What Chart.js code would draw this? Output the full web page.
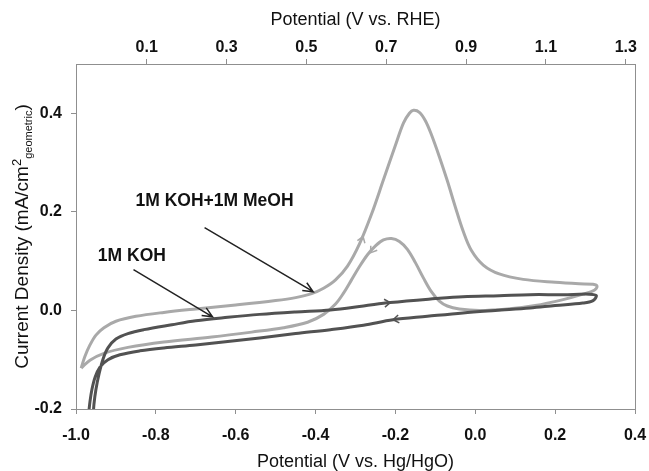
<!DOCTYPE html>
<html>
<head>
<meta charset="utf-8">
<script src="https://cdn.jsdelivr.net/npm/chart.js@4.4.0/dist/chart.umd.min.js"></script>
<style>
  html, body { margin: 0; padding: 0; background: #fff; }
</style>
</head>
<body>
<canvas id="cv" width="649" height="471"></canvas>
<script>
// Potential in V vs. Hg/HgO, current density in mA/cm2 (closed CV loops)
const meohPotential = [
  -0.987, -0.978, -0.965, -0.950, -0.930, -0.900, -0.850, -0.780, -0.700, -0.600,
  -0.500, -0.450, -0.410, -0.380, -0.350, -0.320, -0.290, -0.260, -0.230, -0.200,
  -0.180, -0.165, -0.155, -0.140, -0.125, -0.110, -0.090, -0.070, -0.050, -0.030,
  -0.010, 0.020, 0.060, 0.120, 0.200, 0.260, 0.295, 0.305,
  0.298, 0.270, 0.220, 0.150, 0.080, 0.010, -0.040, -0.070, -0.090, -0.110,
  -0.130, -0.150, -0.170, -0.190, -0.210, -0.230, -0.250, -0.270, -0.290, -0.310,
  -0.330, -0.350, -0.380, -0.420, -0.480, -0.560, -0.660, -0.780, -0.870, -0.930,
  -0.965, -0.987
];
const meohCurrent = [
  -0.117, -0.094, -0.070, -0.050, -0.035, -0.022, -0.012, -0.004, 0.003, 0.011,
  0.020, 0.026, 0.034, 0.045, 0.062, 0.090, 0.135, 0.195, 0.265, 0.335,
  0.380, 0.400, 0.406, 0.402, 0.385, 0.357, 0.312, 0.263, 0.210, 0.160,
  0.122, 0.092, 0.074, 0.063, 0.057, 0.054, 0.053, 0.049,
  0.041, 0.033, 0.022, 0.010, 0.003, 0.000, 0.003, 0.009, 0.019, 0.038,
  0.066, 0.097, 0.124, 0.140, 0.146, 0.143, 0.131, 0.113, 0.089, 0.062,
  0.035, 0.013, -0.008, -0.024, -0.035, -0.044, -0.054, -0.064, -0.075, -0.087,
  -0.101, -0.117
];
const kohPotential = [
  -0.957, -0.955, -0.950, -0.942, -0.932, -0.920, -0.900, -0.870, -0.830, -0.760,
  -0.700, -0.620, -0.540, -0.450, -0.363, -0.280, -0.213, -0.100, -0.031, 0.060,
  0.137, 0.220, 0.285, 0.303,
  0.295, 0.269, 0.200, 0.137, 0.050, -0.031, -0.120, -0.206, -0.280, -0.363,
  -0.450, -0.540, -0.620, -0.700, -0.780, -0.840, -0.890, -0.920, -0.940, -0.952,
  -0.960, -0.965, -0.969
];
const kohCurrent = [
  -0.215, -0.190, -0.160, -0.128, -0.098, -0.076, -0.058, -0.047, -0.039, -0.029,
  -0.021, -0.014, -0.008, -0.003, 0.001, 0.009, 0.016, 0.024, 0.028, 0.030,
  0.032, 0.032, 0.033, 0.030,
  0.020, 0.015, 0.010, 0.005, 0.000, -0.005, -0.012, -0.019, -0.030, -0.039,
  -0.047, -0.056, -0.063, -0.070, -0.076, -0.082, -0.090, -0.100, -0.115, -0.135,
  -0.160, -0.185, -0.215
];
const hgTicks = [-1.0, -0.8, -0.6, -0.4, -0.2, 0.0, 0.2, 0.4];
const rheTicks = [0.1, 0.3, 0.5, 0.7, 0.9, 1.1, 1.3];
const currentTicks = [-0.2, 0.0, 0.2, 0.4];
const rheOffset = 0.923; // E(RHE) = E(Hg/HgO) + 0.923

// callouts and scan-direction marks, in data coordinates
const callouts = [
  { text: "1M KOH+1M MeOH", at: [-0.653, 0.222], from: [-0.678, 0.168], to: [-0.406, 0.038] },
  { text: "1M KOH", at: [-0.86, 0.11], from: [-0.856, 0.083], to: [-0.658, -0.013] }
];
const scanMarks = [
  { ds: 1, at: [-0.281, 0.150], toward: [-0.27, 0.175] },
  { ds: 1, at: [-0.262, 0.117], toward: [-0.282, 0.094] },
  { ds: 0, at: [-0.213, 0.016], toward: [-0.19, 0.018] },
  { ds: 0, at: [-0.206, -0.019], toward: [-0.23, -0.022] }
];

const axisGrey = "#8f8f8f";
const family = "'Liberation Sans', Arial, sans-serif";
const tickFont = { family: family, size: 16, weight: "bold" };
const titleFont = { family: family, size: 18, lineHeight: 1 };

const toPoints = (xs, ys) => xs.map((x, i) => ({ x: x, y: ys[i] }));
const fixTicks = list => scale => { scale.ticks = list.map(v => ({ value: v })); };
const fitHeight = h => scale => { scale.height = h; scale.paddingLeft = 0; scale.paddingRight = 0; };

const overlay = {
  id: "overlay",
  afterDatasetsDraw(chart) {
    const { ctx, chartArea: a, scales } = chart;
    const px = p => [scales.x.getPixelForValue(p[0]), scales.y.getPixelForValue(p[1])];
    ctx.save();

    // right frame edge
    ctx.strokeStyle = axisGrey;
    ctx.lineWidth = 1;
    ctx.beginPath();
    ctx.moveTo(a.right + 0.5, a.top);
    ctx.lineTo(a.right + 0.5, a.bottom);
    ctx.stroke();

    // little chevrons showing scan direction
    scanMarks.forEach(m => {
      const [x1, y1] = px(m.at);
      const [x2, y2] = px(m.toward);
      const ang = Math.atan2(y2 - y1, x2 - x1);
      ctx.strokeStyle = chart.data.datasets[m.ds].borderColor;
      ctx.lineWidth = 1.5;
      ctx.beginPath();
      ctx.moveTo(x1 - 7 * Math.cos(ang - 0.6), y1 - 7 * Math.sin(ang - 0.6));
      ctx.lineTo(x1, y1);
      ctx.lineTo(x1 - 7 * Math.cos(ang + 0.6), y1 - 7 * Math.sin(ang + 0.6));
      ctx.stroke();
    });

    // callout labels with arrows
    callouts.forEach(c => {
      const [tx, ty] = px(c.at);
      const [x1, y1] = px(c.from);
      const [x2, y2] = px(c.to);
      ctx.fillStyle = "#111";
      ctx.font = "bold 17.5px " + family;
      ctx.textAlign = "center";
      ctx.textBaseline = "middle";
      ctx.fillText(c.text, tx, ty);
      const ang = Math.atan2(y2 - y1, x2 - x1);
      ctx.strokeStyle = "#222";
      ctx.lineWidth = 1.5;
      ctx.beginPath();
      ctx.moveTo(x1, y1);
      ctx.lineTo(x2, y2);
      ctx.moveTo(x2 - 11 * Math.cos(ang - 0.42), y2 - 11 * Math.sin(ang - 0.42));
      ctx.lineTo(x2, y2);
      ctx.lineTo(x2 - 11 * Math.cos(ang + 0.42), y2 - 11 * Math.sin(ang + 0.42));
      ctx.stroke();
    });
    ctx.restore();
  },
  afterDraw(chart) {
    // y axis title with super/subscript
    const { ctx, chartArea: a } = chart;
    const parts = [
      { t: "Current Density (mA/cm", size: 19, dy: 0 },
      { t: "2", size: 13, dy: -7 },
      { t: "geometric", size: 11, dy: 4 },
      { t: ")", size: 19, dy: 0 }
    ];
    ctx.save();
    ctx.fillStyle = "#111";
    ctx.textBaseline = "alphabetic";
    ctx.textAlign = "left";
    let total = 0;
    parts.forEach(p => { ctx.font = p.size + "px " + family; p.w = ctx.measureText(p.t).width; total += p.w; });
    ctx.translate(21, (a.top + a.bottom) / 2);
    ctx.rotate(-Math.PI / 2);
    let x = -total / 2;
    parts.forEach(p => {
      ctx.font = p.size + "px " + family;
      ctx.fillText(p.t, x, 7 + p.dy);
      x += p.w;
    });
    ctx.restore();
  }
};

const ctx = document.getElementById("cv").getContext("2d");
new Chart(ctx, {
  type: "scatter",
  data: {
    datasets: [
      {
        label: "1M KOH",
        data: toPoints(kohPotential, kohCurrent),
        showLine: true,
        borderColor: "#525252",
        borderWidth: 3,
        pointRadius: 0,
        tension: 0.35
      },
      {
        label: "1M KOH+1M MeOH",
        data: toPoints(meohPotential, meohCurrent),
        showLine: true,
        borderColor: "#a9a9a9",
        borderWidth: 3,
        pointRadius: 0,
        tension: 0.35
      }
    ]
  },
  options: {
    responsive: false,
    animation: false,
    devicePixelRatio: 1,
    layout: { padding: { left: 0, right: 14, top: 0, bottom: 0 } },
    plugins: { legend: { display: false }, tooltip: { enabled: false } },
    scales: {
      x: {
        type: "linear",
        position: "bottom",
        min: -1.0,
        max: 0.4,
        afterBuildTicks: fixTicks(hgTicks),
        afterFit: fitHeight(62),
        ticks: { font: tickFont, color: "#111", padding: 12, maxRotation: 0, autoSkip: false,
                 callback: v => v.toFixed(1) },
        grid: { drawOnChartArea: false, drawTicks: true, tickLength: 5, color: axisGrey },
        border: { display: true, color: axisGrey, width: 1 },
        title: { display: true, text: "Potential (V vs. Hg/HgO)", font: titleFont, color: "#111",
                 padding: { top: 0, bottom: 0 } }
      },
      xTop: {
        type: "linear",
        position: "top",
        min: -1.0 + rheOffset,
        max: 0.4 + rheOffset,
        afterBuildTicks: fixTicks(rheTicks),
        afterFit: fitHeight(64),
        ticks: { font: tickFont, color: "#111", padding: 2, maxRotation: 0, autoSkip: false,
                 callback: v => v.toFixed(1) },
        grid: { drawOnChartArea: false, drawTicks: true, tickLength: 5, color: axisGrey },
        border: { display: true, color: axisGrey, width: 1 },
        title: { display: true, text: "Potential (V vs. RHE)", font: titleFont, color: "#111",
                 padding: { top: 11, bottom: 0 } }
      },
      y: {
        type: "linear",
        position: "left",
        min: -0.2,
        max: 0.5,
        afterBuildTicks: fixTicks(currentTicks),
        afterFit: s => { s.width = 76; },
        ticks: { font: tickFont, color: "#111", padding: 9, callback: v => v.toFixed(1) },
        grid: { drawOnChartArea: false, drawTicks: true, tickLength: 5, color: axisGrey },
        border: { display: true, color: axisGrey, width: 1 }
      }
    }
  },
  plugins: [overlay]
});
</script>
</body>
</html>
